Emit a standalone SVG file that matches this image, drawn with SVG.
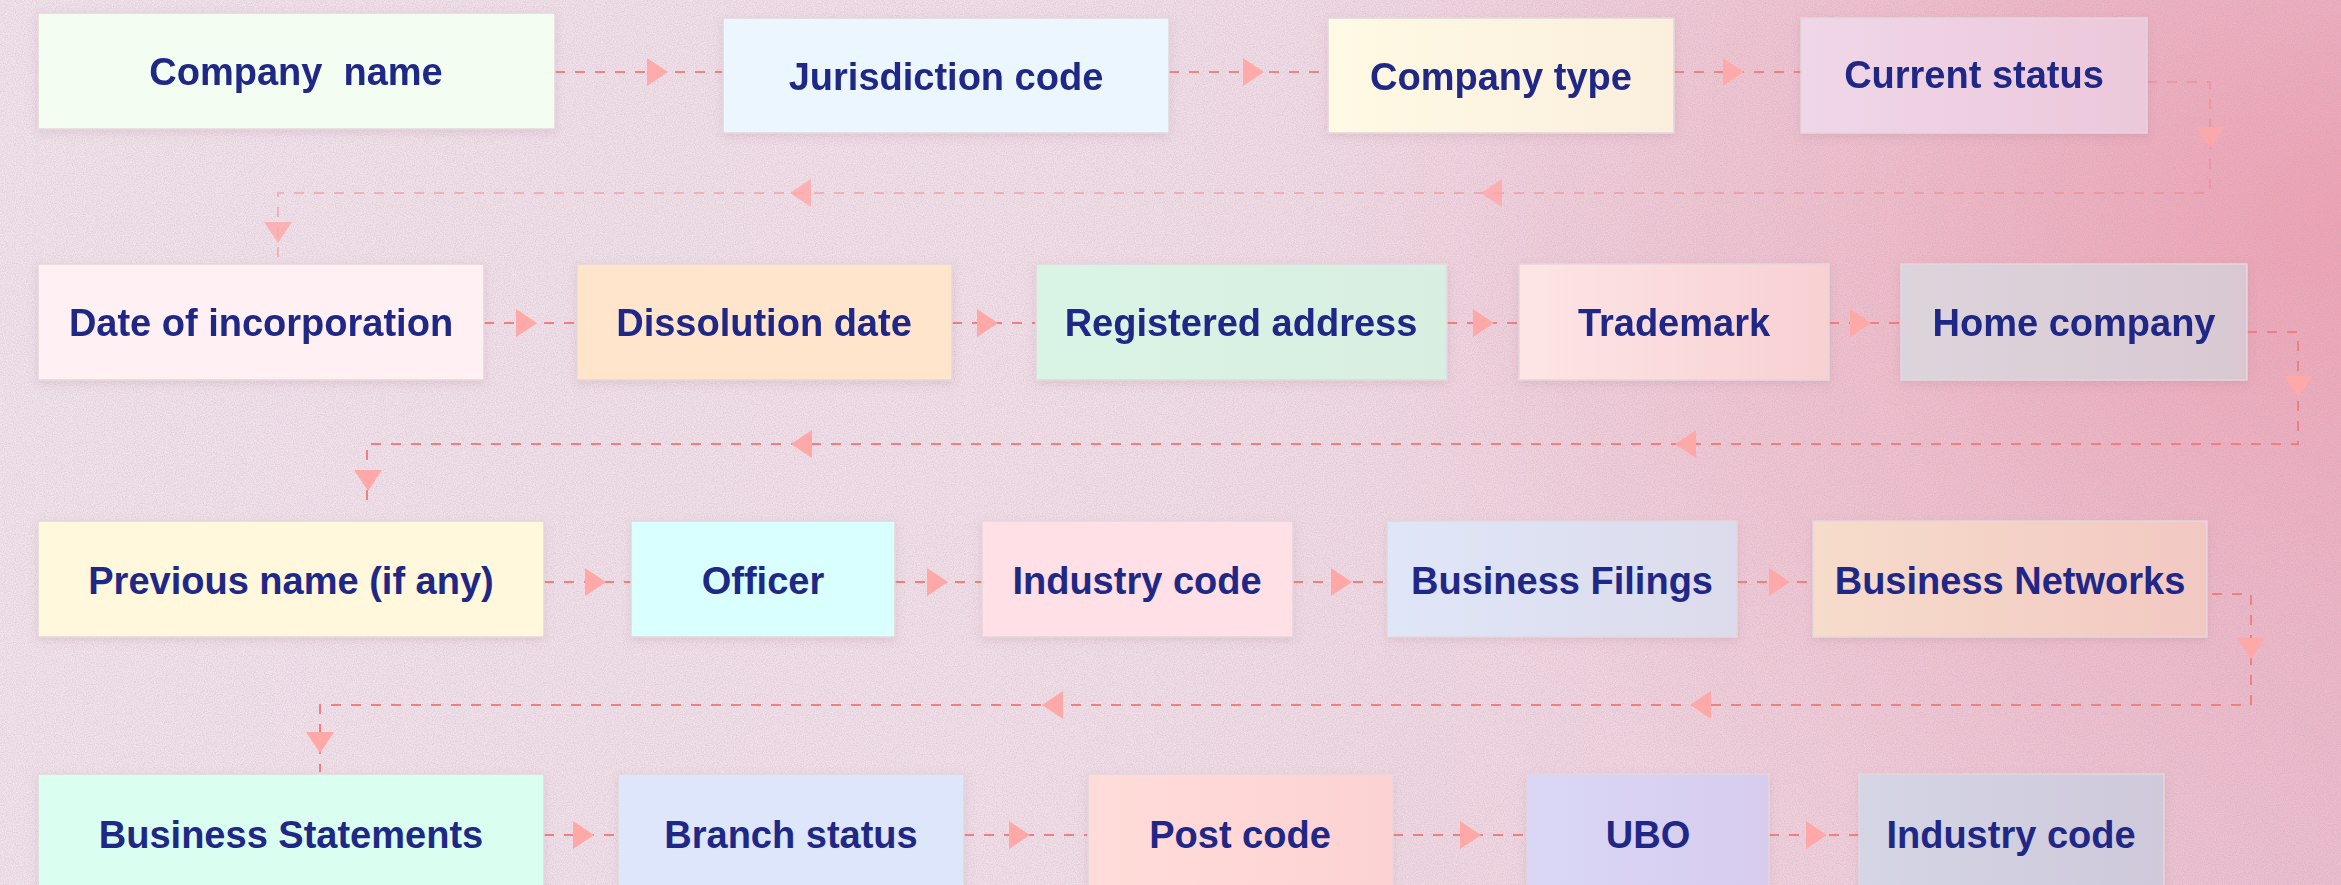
<svg xmlns="http://www.w3.org/2000/svg" xmlns:xlink="http://www.w3.org/1999/xlink" width="2341" height="885" viewBox="0 0 2341 885">
<style>
.box{stroke:#e4d6dc;stroke-width:1.5;filter:url(#sh)}
.lbl{font-family:"Liberation Sans",Arial,sans-serif;font-weight:700;font-size:38px;fill:#1f2787;text-anchor:middle;white-space:pre}
.ln{fill:none;stroke:#f08080;stroke-width:2;stroke-dasharray:10 10}
.ar{fill:#ffa8a8}
</style>
<defs>
<linearGradient id="bg" x1="0" y1="0" x2="1" y2="0">
<stop offset="0" stop-color="#f1e4ec"/>
<stop offset="0.5" stop-color="#f1dfe8"/>
<stop offset="0.8" stop-color="#f0d0dc"/>
<stop offset="1" stop-color="#ecc2d2"/>
</linearGradient>
<radialGradient id="bg2" cx="2341" cy="220" r="1000" gradientTransform="translate(2341 220) scale(1 0.75) translate(-2341 -220)" gradientUnits="userSpaceOnUse">
<stop offset="0" stop-color="#ef9aab" stop-opacity="0.75"/>
<stop offset="0.5" stop-color="#ef9aab" stop-opacity="0.3"/>
<stop offset="1" stop-color="#ef9aab" stop-opacity="0"/>
</radialGradient>
<filter id="noise" x="0" y="0" width="100%" height="100%">
<feTurbulence type="fractalNoise" baseFrequency="0.9" numOctaves="2" seed="3"/>
<feColorMatrix type="matrix" values="0 0 0 0 0.45  0 0 0 0 0.3  0 0 0 0 0.4  0 0 0 0.7 -0.22"/>
</filter>
<filter id="sh" x="-10%" y="-20%" width="120%" height="150%">
<feDropShadow dx="0" dy="3" stdDeviation="4" flood-color="#8a5a70" flood-opacity="0.15"/>
</filter>
<linearGradient id="gType" x1="0" x2="1"><stop offset="0" stop-color="#fefae4"/><stop offset="1" stop-color="#fbeedd"/></linearGradient>
<linearGradient id="gStatus" x1="0" x2="1"><stop offset="0" stop-color="#efd7e8"/><stop offset="1" stop-color="#ecc7da"/></linearGradient>
<linearGradient id="gReg" x1="0" x2="1"><stop offset="0" stop-color="#d9f4e5"/><stop offset="1" stop-color="#d8eee0"/></linearGradient>
<linearGradient id="gTm" x1="0" x2="1"><stop offset="0" stop-color="#fde5e6"/><stop offset="1" stop-color="#f8d0d2"/></linearGradient>
<linearGradient id="gHome" x1="0" x2="1"><stop offset="0" stop-color="#dcd4dc"/><stop offset="1" stop-color="#d9c8d2"/></linearGradient>
<linearGradient id="gFil" x1="0" x2="1"><stop offset="0" stop-color="#dfe6f8"/><stop offset="1" stop-color="#dcdbeb"/></linearGradient>
<linearGradient id="gNet" x1="0" x2="1"><stop offset="0" stop-color="#f6dccb"/><stop offset="1" stop-color="#f2c8c2"/></linearGradient>
<linearGradient id="gPost" x1="0" x2="1"><stop offset="0" stop-color="#ffdcd9"/><stop offset="1" stop-color="#fcd2d2"/></linearGradient>
<linearGradient id="gUbo" x1="0" x2="1"><stop offset="0" stop-color="#dad7f6"/><stop offset="1" stop-color="#d7ccee"/></linearGradient>
<linearGradient id="gInd2" x1="0" x2="1"><stop offset="0" stop-color="#d4d5e5"/><stop offset="1" stop-color="#cfc9da"/></linearGradient>
<polygon id="arr" class="ar" points="-10,-14 11,0 -10,14"/>
</defs>

<rect width="2341" height="885" fill="url(#bg)"/>
<rect width="2341" height="885" fill="url(#bg2)"/>
<rect width="2341" height="885" filter="url(#noise)" opacity="0.7"/>

<g id="connectors">
<g opacity="0.95">
<path class="ln" d="M555,72 H723"/>
<path class="ln" d="M1169,72 H1328"/>
<path class="ln" d="M1674,72 H1801"/>
<use xlink:href="#arr" href="#arr" transform="translate(657,72)"/>
<use xlink:href="#arr" href="#arr" transform="translate(1253,72)"/>
<use xlink:href="#arr" href="#arr" transform="translate(1733,72)"/>
</g>
<g opacity="0.45">
<path class="ln" d="M2147,82 H2210 V193 H278 V262"/>
</g>
<g opacity="0.8">
<use xlink:href="#arr" href="#arr" transform="translate(2210,137) rotate(90)"/>
<use xlink:href="#arr" href="#arr" transform="translate(1492,193) rotate(180)"/>
<use xlink:href="#arr" href="#arr" transform="translate(801,193) rotate(180)"/>
<use xlink:href="#arr" href="#arr" transform="translate(278,232) rotate(90)"/>
</g>
<path class="ln" d="M484,323 H577"/>
<path class="ln" d="M952,323 H1036"/>
<path class="ln" d="M1447,323 H1519"/>
<path class="ln" d="M1829,323 H1901"/>
<use xlink:href="#arr" href="#arr" transform="translate(526,323)"/>
<use xlink:href="#arr" href="#arr" transform="translate(987,323)"/>
<use xlink:href="#arr" href="#arr" transform="translate(1483,323)"/>
<use xlink:href="#arr" href="#arr" transform="translate(1860,323)"/>
<path class="ln" d="M2247,332 H2298 V444 H367 V508"/>
<use xlink:href="#arr" href="#arr" transform="translate(2298,386) rotate(90)"/>
<use xlink:href="#arr" href="#arr" transform="translate(1686,444) rotate(180)"/>
<use xlink:href="#arr" href="#arr" transform="translate(802,444) rotate(180)"/>
<use xlink:href="#arr" href="#arr" transform="translate(368,480) rotate(90)"/>
<path class="ln" d="M544,582 H631"/>
<path class="ln" d="M895,582 H982"/>
<path class="ln" d="M1293,582 H1387"/>
<path class="ln" d="M1737,582 H1813"/>
<use xlink:href="#arr" href="#arr" transform="translate(595,582)"/>
<use xlink:href="#arr" href="#arr" transform="translate(937,582)"/>
<use xlink:href="#arr" href="#arr" transform="translate(1341,582)"/>
<use xlink:href="#arr" href="#arr" transform="translate(1779,582)"/>
<path class="ln" d="M2212,594 H2251 V705 H320 V772"/>
<use xlink:href="#arr" href="#arr" transform="translate(2251,648) rotate(90)"/>
<use xlink:href="#arr" href="#arr" transform="translate(1701,705) rotate(180)"/>
<use xlink:href="#arr" href="#arr" transform="translate(1053,705) rotate(180)"/>
<use xlink:href="#arr" href="#arr" transform="translate(320,742) rotate(90)"/>
<path class="ln" d="M544,835 H618"/>
<path class="ln" d="M964,835 H1088"/>
<path class="ln" d="M1393,835 H1527"/>
<path class="ln" d="M1769,835 H1859"/>
<use xlink:href="#arr" href="#arr" transform="translate(583,835)"/>
<use xlink:href="#arr" href="#arr" transform="translate(1019,835)"/>
<use xlink:href="#arr" href="#arr" transform="translate(1470,835)"/>
<use xlink:href="#arr" href="#arr" transform="translate(1816,835)"/>
</g>

<g id="n-company-name"><rect class="box" x="38" y="13" width="517" height="116" fill="#f3fdf2"/><text class="lbl" x="296" y="85">Company  name</text></g>
<g id="n-jurisdiction"><rect class="box" x="723" y="18" width="446" height="115" fill="#ecf6ff"/><text class="lbl" x="946" y="90">Jurisdiction code</text></g>
<g id="n-company-type"><rect class="box" x="1328" y="18" width="346" height="115" fill="url(#gType)"/><text class="lbl" x="1501" y="90">Company type</text></g>
<g id="n-current-status"><rect class="box" x="1801" y="18" width="346" height="115" fill="url(#gStatus)"/><text class="lbl" x="1974" y="88">Current status</text></g>

<g id="n-date-incorporation"><rect class="box" x="38" y="264" width="446" height="116" fill="#fff0f3"/><text class="lbl" x="261" y="336">Date of incorporation</text></g>
<g id="n-dissolution"><rect class="box" x="577" y="264" width="375" height="116" fill="#ffe5cc"/><text class="lbl" x="764" y="336">Dissolution date</text></g>
<g id="n-registered"><rect class="box" x="1036" y="264" width="411" height="116" fill="url(#gReg)"/><text class="lbl" x="1241" y="336">Registered address</text></g>
<g id="n-trademark"><rect class="box" x="1519" y="264" width="310" height="116" fill="url(#gTm)"/><text class="lbl" x="1674" y="336">Trademark</text></g>
<g id="n-home-company"><rect class="box" x="1901" y="264" width="346" height="116" fill="url(#gHome)"/><text class="lbl" x="2074" y="336">Home company</text></g>

<g id="n-previous-name"><rect class="box" x="38" y="521" width="506" height="116" fill="#fff8dc"/><text class="lbl" x="291" y="594">Previous name (if any)</text></g>
<g id="n-officer"><rect class="box" x="631" y="521" width="264" height="116" fill="#d9ffff"/><text class="lbl" x="763" y="594">Officer</text></g>
<g id="n-industry-code-1"><rect class="box" x="982" y="521" width="311" height="116" fill="#ffe0e6"/><text class="lbl" x="1137" y="594">Industry code</text></g>
<g id="n-business-filings"><rect class="box" x="1387" y="521" width="350" height="116" fill="url(#gFil)"/><text class="lbl" x="1562" y="594">Business Filings</text></g>
<g id="n-business-networks"><rect class="box" x="1813" y="521" width="394" height="116" fill="url(#gNet)"/><text class="lbl" x="2010" y="594">Business Networks</text></g>

<g id="n-business-statements"><rect class="box" x="38" y="774" width="506" height="120" fill="#dafff0"/><text class="lbl" x="291" y="848">Business Statements</text></g>
<g id="n-branch-status"><rect class="box" x="618" y="774" width="346" height="120" fill="#dde6fb"/><text class="lbl" x="791" y="848">Branch status</text></g>
<g id="n-post-code"><rect class="box" x="1088" y="774" width="305" height="120" fill="url(#gPost)"/><text class="lbl" x="1240" y="848">Post code</text></g>
<g id="n-ubo"><rect class="box" x="1527" y="774" width="242" height="120" fill="url(#gUbo)"/><text class="lbl" x="1648" y="848">UBO</text></g>
<g id="n-industry-code-2"><rect class="box" x="1859" y="774" width="305" height="120" fill="url(#gInd2)"/><text class="lbl" x="2011" y="848">Industry code</text></g>
</svg>
